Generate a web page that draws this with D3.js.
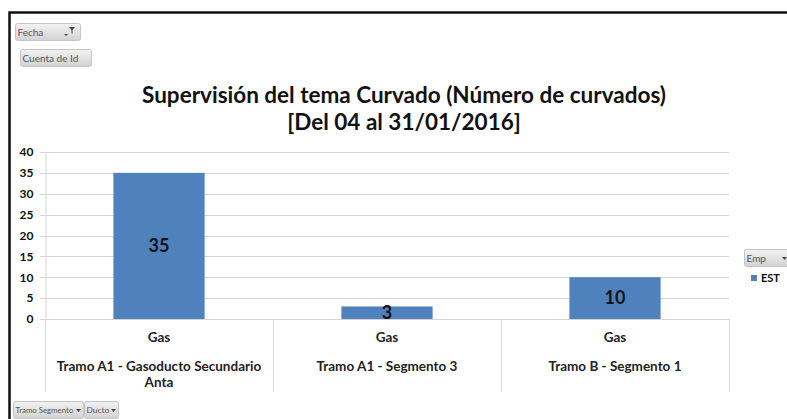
<!DOCTYPE html>
<html>
<head>
<meta charset="utf-8">
<script src="https://cdn.jsdelivr.net/npm/d3@7"></script>
<style>
  body { margin: 0; background: #fff; }
  svg { display: block; }
</style>
</head>
<body>
<svg width="787" height="419"></svg>
<script>
// data
var ductos = ["Gas", "Gas", "Gas"];
var tramos = [
    ["Tramo A1 - Gasoducto Secundario", "Anta"],
    ["Tramo A1 - Segmento 3"],
    ["Tramo B - Segmento 1"]
];
var counts = [35, 3, 10];
var yTicks = [0, 5, 10, 15, 20, 25, 30, 35, 40];
var titleLines = ["Supervisión del tema Curvado (Número de curvados)", "[Del 04 al 31/01/2016]"];
var seriesName = "EST";

var svg = d3.select("svg");
var font = "Lato, 'Open Sans', sans-serif";
var barColor = "#4f81bd";

// frame
svg.append("path").attr("fill", "none").attr("stroke", "#111").attr("stroke-width", 2.5)
    .attr("d", "M9.5,419 V12.5 H787");

// scales
var scY = d3.scaleLinear().domain([0, 40]).range([319, 152]);
var scX = d3.scaleBand().domain(d3.range(counts.length))
    .range([45, 729]).paddingInner(0.6).paddingOuter(0.3);

// gridlines
svg.append("g").selectAll("line").data(yTicks).enter().append("line")
    .attr("x1", 40).attr("x2", 729)
    .attr("y1", d => Math.round(scY(d)) + 0.5).attr("y2", d => Math.round(scY(d)) + 0.5)
    .attr("stroke", "#d4d4d4").attr("stroke-width", 1);

// y axis
var yAx = svg.append("g").attr("transform", "translate(45.5,0)")
    .call(d3.axisLeft(scY).tickValues(yTicks).tickSize(0).tickPadding(12));
yAx.select(".domain").attr("stroke", "#d4d4d4");
yAx.selectAll("text").attr("font-family", font).attr("font-size", 12)
    .attr("font-weight", "bold").attr("fill", "#111");

// category separators
var step = scX.step();
var seps = d3.range(counts.length + 1).map(i => 45 + i * step);
svg.append("g").selectAll("line").data(seps).enter().append("line")
    .attr("x1", d => Math.round(d) + 0.5).attr("x2", d => Math.round(d) + 0.5)
    .attr("y1", 319).attr("y2", 392)
    .attr("stroke", "#d4d4d4");

// bars
svg.append("g").selectAll("rect").data(counts).enter().append("rect")
    .attr("x", (d, i) => scX(i)).attr("width", scX.bandwidth())
    .attr("y", d => scY(d)).attr("height", d => scY(0) - scY(d))
    .attr("fill", barColor);

// data labels
svg.append("g").selectAll("text").data(counts).enter().append("text")
    .attr("x", (d, i) => scX(i) + scX.bandwidth() / 2)
    .attr("y", d => (scY(d) + scY(0)) / 2)
    .attr("dy", "0.35em").attr("text-anchor", "middle")
    .attr("font-family", font).attr("font-size", 18).attr("font-weight", "bold")
    .attr("fill", "#111")
    .text(d => d);

// category labels (two levels)
var cat = svg.append("g").attr("font-family", font).attr("font-size", 13.5)
    .attr("font-weight", "bold").attr("fill", "#222").attr("text-anchor", "middle");
cat.selectAll("text.duct").data(ductos).enter().append("text")
    .attr("class", "duct")
    .attr("x", (d, i) => scX(i) + scX.bandwidth() / 2)
    .attr("y", 337).attr("dy", "0.35em").text(d => d);
tramos.forEach(function(lines, i) {
    cat.selectAll(null).data(lines).enter().append("text")
        .attr("x", scX(i) + scX.bandwidth() / 2)
        .attr("y", (d, j) => 366 + j * 16).attr("dy", "0.35em").text(d => d);
});

// title
svg.append("g").selectAll("text").data(titleLines).enter().append("text")
    .attr("x", 404).attr("y", (d, i) => 95 + i * 27).attr("dy", "0.35em")
    .attr("text-anchor", "middle").attr("font-family", font)
    .attr("font-size", 22.5).attr("font-weight", "bold").attr("fill", "#111")
    .text(d => d);

// legend
svg.append("rect").attr("x", 751).attr("y", 275).attr("width", 6).attr("height", 6)
    .attr("fill", barColor);
svg.append("text").attr("x", 761).attr("y", 278).attr("dy", "0.35em")
    .attr("font-family", font).attr("font-size", 11).attr("font-weight", "bold")
    .attr("fill", "#111").text(seriesName);

// pivot field buttons
var defs = svg.append("defs");
var grad = defs.append("linearGradient").attr("id", "btn").attr("x1", 0).attr("x2", 0).attr("y1", 0).attr("y2", 1);
grad.append("stop").attr("offset", "0%").attr("stop-color", "#f2f2f2");
grad.append("stop").attr("offset", "100%").attr("stop-color", "#d2d2d2");

var buttons = [
    {label: "Fecha", x: 15, y: 23, w: 65, arrow: "filter", fs: 10},
    {label: "Cuenta de Id", x: 20, y: 49, w: 71, arrow: null, fs: 10},
    {label: "Emp", x: 744, y: 249, w: 45, arrow: "down", fs: 10},
    {label: "Tramo Segmento", x: 13, y: 401, w: 70, arrow: "down", fs: 7.8},
    {label: "Ducto", x: 84, y: 401, w: 34, arrow: "down", fs: 8.4}
];
var btn = svg.append("g").selectAll("g").data(buttons).enter().append("g")
    .attr("transform", d => "translate(" + d.x + "," + d.y + ")");
btn.append("rect").attr("x", 0.5).attr("y", 0.5).attr("width", d => d.w).attr("height", 17)
    .attr("rx", 2).attr("fill", "url(#btn)").attr("stroke", "#c4c4c4");
btn.append("text").attr("x", 2.5).attr("y", 9.5).attr("dy", "0.35em")
    .attr("font-family", font)
    .attr("font-size", d => d.fs).attr("fill", "#555")
    .text(d => d.label);
btn.filter(d => d.arrow === "down").append("path")
    .attr("d", d => "M" + (d.w - 7) + ",8 h5 l-2.5,3 z").attr("fill", "#444");
btn.filter(d => d.arrow === "filter").append("path")
    .attr("d", d => "M" + (d.w - 16) + ",11 h4 l-2,2 z M" + (d.w - 11) + ",4 h6 l-2.5,3 v4 l-1,-1 v-3 z")
    .attr("fill", "#444");
</script>
</body>
</html>
